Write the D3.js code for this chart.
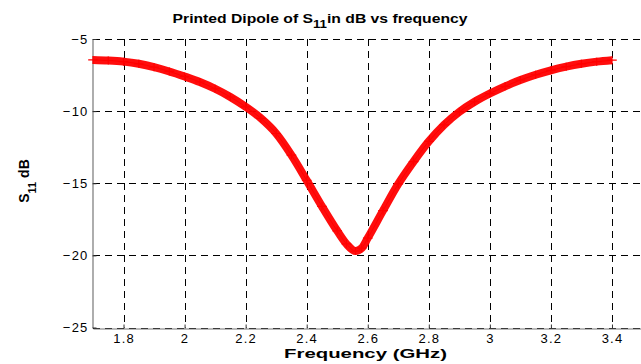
<!DOCTYPE html>
<html><head><meta charset="utf-8">
<script src="https://cdn.jsdelivr.net/npm/d3@7"></script>
<style>
html,body{margin:0;padding:0;background:#fff;}
svg{display:block;}
text{font-family:"Liberation Sans",Arial,Helvetica,sans-serif;fill:#000;}
</style></head>
<body>
<svg id="chart" width="641" height="364"></svg>
<script>
// ---- data ----
const freqGHz = [1.70,1.75,1.80,1.85,1.90,1.95,2.00,2.05,2.10,2.15,2.20,2.25,2.30,2.35,2.40,2.45,2.50,2.53,2.56,2.58,2.60,2.65,2.70,2.75,2.80,2.85,2.90,2.95,3.00,3.05,3.10,3.15,3.20,3.25,3.30,3.35,3.40];
const s11dB   = [-6.45,-6.49,-6.57,-6.72,-6.95,-7.25,-7.60,-7.98,-8.45,-9.02,-9.70,-10.50,-11.55,-13.05,-14.80,-16.60,-18.30,-19.20,-19.70,-19.50,-18.80,-16.90,-15.05,-13.50,-12.10,-10.95,-10.05,-9.35,-8.78,-8.28,-7.85,-7.48,-7.17,-6.92,-6.72,-6.57,-6.47];
const xTicks = [1.8,2.0,2.2,2.4,2.6,2.8,3.0,3.2,3.4];
const xTickLabels = ["1.8","2","2.2","2.4","2.6","2.8","3","3.2","3.4"];
const yTicks = [-25,-20,-15,-10,-5];
const yTickLabels = ["\u221225","\u221220","\u221215","\u221210","\u22125"];
const xDomain = [1.7, 3.5];
const yDomain = [-25, -5];

const svg = d3.select("#chart");
const x = d3.scaleLinear().domain(xDomain).range([93, 642.5]);
const y = d3.scaleLinear().domain(yDomain).range([327.5, 39]);

// grid
const grid = svg.append("g").attr("stroke","#000").attr("stroke-width",1).attr("stroke-dasharray","7,5");
grid.selectAll("line.v").data(xTicks).join("line")
  .attr("x1",d=>Math.round(x(d))+0.5).attr("x2",d=>Math.round(x(d))+0.5)
  .attr("y1",y(yDomain[1])).attr("y2",y(yDomain[0]));
grid.selectAll("line.h").data(yTicks).join("line")
  .attr("y1",d=>Math.round(y(d))+0.5).attr("y2",d=>Math.round(y(d))+0.5)
  .attr("x1",x(xDomain[0])).attr("x2",x(xDomain[1]));

// axes
const xAxis = d3.axisBottom(x).tickValues(xTicks).tickFormat((d,i)=>xTickLabels[i]).tickSizeInner(-4).tickSizeOuter(0).tickPadding(5);
const yAxis = d3.axisLeft(y).tickValues(yTicks).tickFormat((d,i)=>yTickLabels[i]).tickSizeInner(-4).tickSizeOuter(0).tickPadding(4);
const gx = svg.append("g").attr("transform",`translate(0,${Math.round(y(yDomain[0]))+0.5})`).call(xAxis);
const gy = svg.append("g").attr("transform",`translate(${Math.round(x(xDomain[0]))-0.5},0)`).call(yAxis);
[gx,gy].forEach(g=>{
  g.select(".domain").attr("stroke","#777").attr("stroke-width",1.2);
  g.selectAll(".tick line").attr("stroke","#333");
  g.selectAll(".tick text").attr("font-size",13).attr("letter-spacing","1.2px")
   .attr("font-family","'Liberation Sans',Arial,sans-serif").attr("fill","#000");
});

// curve: thick band of '+' markers
const line = d3.line().x(d=>x(d[0])).y(d=>y(d[1])).curve(d3.curveMonotoneX);
const pts = freqGHz.map((f,i)=>[f,s11dB[i]]);
svg.append("path").datum(pts).attr("d",line)
  .attr("fill","none").attr("stroke","#ff0000").attr("stroke-width",8).attr("stroke-linejoin","round").attr("opacity",0.95);
svg.append("path").datum(pts).attr("d",line)
  .attr("fill","none").attr("stroke","#ff0000").attr("stroke-width",1);
svg.append("g").attr("stroke","#ff0000").attr("stroke-width",1.2)
  .selectAll("path").data(pts).join("path")
  .attr("d",d=>{const cx=x(d[0]), cy=y(d[1]); return `M${cx-4.8},${cy}h9.6M${cx},${cy-4}v8`;});

// helper: stretch a text horizontally to a target width around a center
function stretch(sel, cx, cy, target){
  const w = sel.node().getBBox().width;
  sel.attr("transform",`translate(${cx},${cy}) scale(${target/w},1)`);
}

// title
const title = svg.append("text").attr("x",0).attr("y",0).attr("text-anchor","middle")
  .attr("font-size",13).attr("font-weight","bold");
title.append("tspan").text("Printed Dipole  of S");
title.append("tspan").attr("dy",5).attr("font-size",11).text("11");
title.append("tspan").attr("dy",-5).text("in dB vs frequency");
stretch(title, 320, 23, 296);

// x label
const xl = svg.append("text").attr("x",0).attr("y",0).attr("text-anchor","middle")
  .attr("font-size",13.5).attr("font-weight","bold").text("Frequency (GHz)");
stretch(xl, 365.5, 358, 163);

// y label
const yl = svg.append("text").attr("transform","translate(29,181) rotate(-90)").attr("text-anchor","middle")
  .attr("font-size",14).attr("font-weight","bold");
yl.append("tspan").text("S");
yl.append("tspan").attr("dy",7).attr("font-size",11).text("11");
yl.append("tspan").attr("dy",-7).text(" dB");
</script>
</body></html>
